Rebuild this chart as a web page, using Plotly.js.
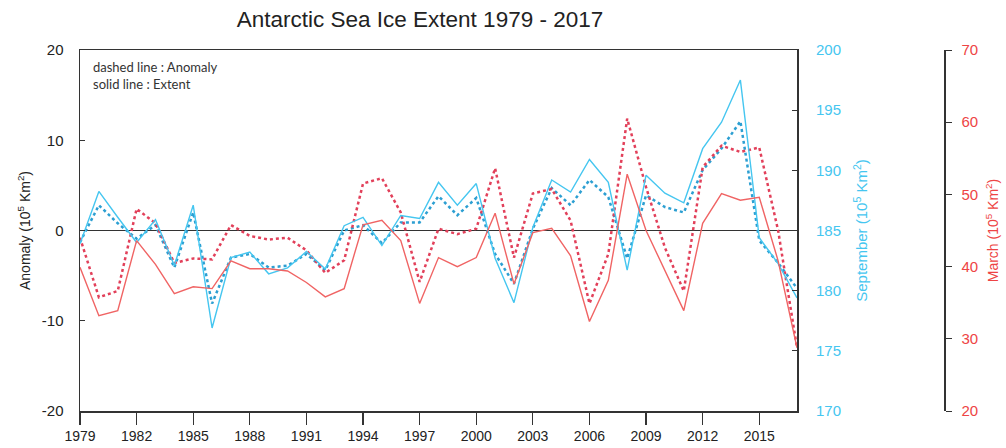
<!DOCTYPE html>
<html><head><meta charset="utf-8">
<script src="https://cdn.plot.ly/plotly-3.0.1.min.js"></script>
<style>html,body{margin:0;padding:0;background:#fff}#chart{width:1006px;height:448px}</style>
</head><body><div id="chart"></div>
<script>
// ---- data (10^5 km^2) ----
const years = [1979,1980,1981,1982,1983,1984,1985,1986,1987,1988,1989,1990,1991,1992,1993,1994,1995,1996,1997,1998,1999,2000,2001,2002,2003,2004,2005,2006,2007,2008,2009,2010,2011,2012,2013,2014,2015,2016,2017];
const septExtent = [183.9,188.25,186.1,184.0,185.9,182.1,187.1,176.9,182.75,183.2,181.4,181.9,183.25,181.8,185.4,186.1,183.75,186.25,186.0,189.0,187.1,188.9,182.7,179.0,185.25,189.2,188.2,190.9,189.0,181.7,189.6,188.1,187.3,191.8,194.0,197.5,184.4,182.25,179.4];
const septAnomaly = [-1.3,2.8,0.8,-0.9,0.6,-4.1,2.0,-8.1,-3.0,-2.6,-4.1,-3.9,-2.6,-4.4,0.0,0.6,-1.4,0.9,0.9,3.8,1.7,3.6,-2.6,-5.9,0.2,4.7,2.8,5.6,3.7,-3.1,3.9,2.6,2.0,6.7,9.1,12.1,-1.1,-3.6,-6.4];
const marchExtent = [39.9,33.2,33.9,43.6,40.3,36.25,37.2,36.95,40.8,39.7,39.7,39.4,37.8,35.8,36.95,45.8,46.4,43.6,34.9,41.25,40.0,41.25,47.4,37.6,44.7,45.3,41.5,32.4,38.1,52.8,45.0,39.4,33.9,46.0,50.1,49.2,49.6,40.8,28.75];
const marchAnomaly = [-0.8,-7.4,-6.7,2.4,0.8,-3.6,-3.1,-3.2,0.6,-0.6,-1.0,-0.8,-2.2,-4.7,-3.3,5.2,5.8,2.0,-5.7,0.2,-0.4,0.2,6.9,-3.0,4.1,4.6,1.1,-8.1,-2.6,12.4,4.8,-1.9,-6.7,7.0,9.4,8.7,9.2,0.0,-13.0];
const xTicks = [1979,1982,1985,1988,1991,1994,1997,2000,2003,2006,2009,2012,2015];
const anomalyTicks = [-20,-10,0,10,20];
const anomalyTickText = ['-20','-10','0','10','20'];
const septTicks = [170,175,180,185,190,195,200];
const marchTicks = [20,30,40,50,60,70];

// ---- styling ----
const FONT = 'Liberation Sans, Arial, sans-serif';
const CYAN = '#45c6f0', CYAN_D = '#2c9fd2';
const RED = '#f06464', RED_D = '#e2405a';
const AX = '#333333';
const W = 1006, H = 448;
const L = 80, R = 797, MX = 944, T = 50, B = 411;

const traces = [
  {x: years, y: septExtent, yaxis: 'y2', mode: 'lines', line: {color: CYAN, width: 1.4}},
  {x: years, y: marchExtent, yaxis: 'y3', mode: 'lines', line: {color: RED, width: 1.4}},
  {x: years, y: septAnomaly, yaxis: 'y', mode: 'lines', line: {color: CYAN_D, width: 2.5, dash: 'dot'}},
  {x: years, y: marchAnomaly, yaxis: 'y', mode: 'lines', line: {color: RED_D, width: 2.5, dash: 'dot'}}
];

const layout = {
  width: W, height: H,
  margin: {l: L, r: W - MX, t: T, b: H - B, pad: 0},
  paper_bgcolor: '#fff', plot_bgcolor: '#fff',
  showlegend: false,
  font: {family: FONT, color: '#222'},
  title: {text: 'Antarctic Sea Ice Extent 1979 - 2017', x: (420 - L) / (MX - L), xref: 'paper', xanchor: 'center',
          y: 1 - 19 / H, yref: 'container', yanchor: 'middle', font: {size: 22.5, family: FONT, color: '#222'}},
  xaxis: {domain: [0, (R - L) / (MX - L)], range: [1979, 2017], tickmode: 'array', tickvals: xTicks, ticks: 'outside', ticklen: 12,
          tickcolor: AX, tickwidth: 1.2, showline: true, linecolor: AX, linewidth: 1.5, mirror: true,
          showgrid: false, zeroline: false, tickfont: {size: 14, color: '#222'}, ticklabelstandoff: 0},
  yaxis: {range: [-20, 20], tickmode: 'array', tickvals: anomalyTicks, ticktext: anomalyTickText, ticks: 'inside', ticklen: 5, tickcolor: AX,
          showline: true, linecolor: AX, linewidth: 1.5, mirror: true, showgrid: false,
          zeroline: true, zerolinecolor: AX, zerolinewidth: 1.3,
          tickfont: {size: 15, color: '#222'}, ticklabelstandoff: 12,
          title: {text: 'Anomaly (10<sup>5</sup> Km<sup>2</sup>)', font: {size: 14, color: '#222'}, standoff: 8}},
  yaxis2: {overlaying: 'y', side: 'right', anchor: 'x', range: [170, 200], tickmode: 'array', tickvals: septTicks,
           ticks: 'inside', ticklen: 5, tickcolor: AX, showline: false, showgrid: false, zeroline: false,
           tickfont: {size: 15, color: CYAN}, ticklabelstandoff: 18,
           title: {text: 'September (10<sup>5</sup> Km<sup>2</sup>)', font: {size: 15, color: CYAN}, standoff: 16}},
  yaxis3: {overlaying: 'y', side: 'right', anchor: 'free', position: 1, range: [20, 70], tickmode: 'array', tickvals: marchTicks,
           ticks: 'outside', ticklen: 6, tickcolor: AX, showline: true, linecolor: AX, linewidth: 1.5,
           showgrid: false, zeroline: false, tickfont: {size: 15, color: '#ee4444'}, ticklabelstandoff: 7,
           title: {text: 'March (10<sup>5</sup> Km<sup>2</sup>)', font: {size: 14, color: '#ee4444'}, standoff: 11}},
  annotations: [{text: 'dashed line : Anomaly<br>solid line : Extent', xref: 'paper', yref: 'paper',
                 x: (91 - L) / (MX - L), y: (B - 57) / (B - T), xanchor: 'left', yanchor: 'top', align: 'left',
                 showarrow: false, font: {family: 'Lato, sans-serif', size: 13, color: '#333'}}]
};

Plotly.newPlot('chart', traces, layout, {displayModeBar: false, staticPlot: true});
</script>
</body></html>
